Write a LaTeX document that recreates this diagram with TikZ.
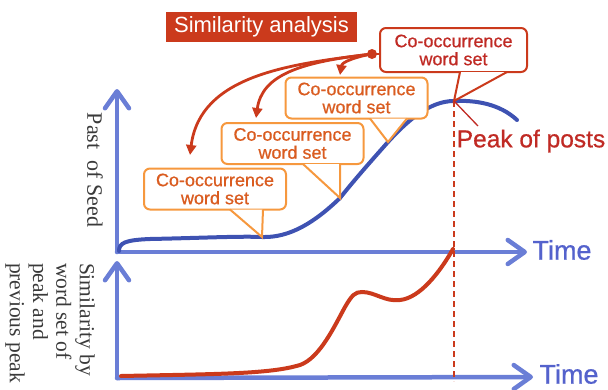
\documentclass[tikz,border=0pt]{standalone}
\usepackage{fontspec}
\setmainfont{Liberation Sans}
\newfontfamily\heavysans[FakeBold=0.7]{Liberation Sans}
\newfontfamily\serifface{Liberation Serif}
\usetikzlibrary{arrows.meta}

\definecolor{axisblue}{RGB}{106,126,214}
\definecolor{curveblue}{RGB}{62,82,178}
\definecolor{simred}{RGB}{203,58,28}
\definecolor{peakred}{RGB}{192,42,36}
\definecolor{boxorange}{RGB}{246,152,62}
\definecolor{textorange}{RGB}{218,92,32}
\definecolor{timeblue}{RGB}{84,98,204}
\definecolor{labelgray}{RGB}{58,58,58}

\begin{document}
\begin{tikzpicture}[x=1pt, y=-1pt,
    axis/.style={draw=axisblue, line width=4.5pt, line cap=round, -{Straight Barb[length=17pt,width=24pt,round]}},
    timelbl/.style={text=timeblue, inner sep=0pt, font=\heavysans\fontsize{27}{27}\selectfont},
    ylbl/.style={text=labelgray, inner sep=0pt, rotate=-90, font=\serifface\fontsize{22}{22}\selectfont},
    wordset/.style={draw=boxorange, line width=2pt, rounded corners=6pt, fill=white, text=textorange, minimum width=142pt, minimum height=41pt, inner sep=0pt, align=center, font=\heavysans\fontsize{18}{18}\selectfont},
    wordtop/.style={wordset, draw=simred, text=peakred, minimum width=147pt, minimum height=44pt},
    tail/.style={draw=boxorange, line width=2pt, fill=white},
    back/.style={draw=simred, line width=2.8pt, -{Triangle[length=10pt,width=10pt]}}]
    \useasboundingbox (0,0) rectangle (608,389);

    \coordinate (o1) at (117,252);
    \coordinate (x1) at (527,252);
    \coordinate (y1) at (117,89);
    \coordinate (o2) at (117,378);
    \coordinate (x2) at (533,377);
    \coordinate (y2) at (117,261);
    \coordinate (tip4) at (262,237);
    \coordinate (tip3) at (340,198);
    \coordinate (tip2) at (388,142);
    \coordinate (tip1) at (454,101);
    \coordinate (peakbase) at (454,381);
    \coordinate (peakptr) at (478,126);

    \draw[axis] (o1) -- (x1);
    \draw[axis] (o1) -- (y1);
    \draw[axis] (o2) -- (x2);
    \draw[axis] (o2) -- (y2);
    \node[timelbl] (time1) at (562,250) {Time};
    \node[timelbl] (time2) at (569,374) {Time};
    \node[ylbl] (seedlbl) at (95,170) {Past\ \ of Seed};
    \node[ylbl, align=left, font=\serifface\fontsize{21.5}{23.3}\selectfont] (simlbl) at (50,323) {Similarity by\\word set of\\peak and\\previous peak};

    \draw[curveblue, line width=4pt, line cap=round] (119,251) .. controls (119,243) and (125,240) .. (150,239)
        .. controls (200,238) and (240,236) .. (tip4)
        .. controls (290,238) and (315,222) .. (tip3)
        .. controls (356,178) and (372,160) .. (tip2)
        .. controls (408,120) and (430,101) .. (tip1)
        .. controls (476,100) and (500,104) .. (517,120);
    \draw[simred, line width=4pt, line cap=round] (121,376) .. controls (220,374) and (270,374) .. (300,365)
        .. controls (320,358) and (335,325) .. (345,307)
        .. controls (352,295) and (355,292) .. (362,292)
        .. controls (375,292) and (385,302) .. (400,300)
        .. controls (420,298) and (440,272) .. (453,249);
    \draw[simred, line width=1.8pt, dash pattern=on 6pt off 4pt] (tip1) -- (peakbase);

    \node[wordset] (cs4) at (215,189) {Co-occurrence\\word set};
    \filldraw[tail] ([xshift=15pt,yshift=1pt]cs4.south) -- (tip4) -- ([xshift=48pt,yshift=1pt]cs4.south);
    \node[wordset] (cs3) at (292.5,143.5) {Co-occurrence\\word set};
    \filldraw[tail] ([xshift=10.5pt,yshift=1pt]cs3.south) -- (tip3) -- ([xshift=47.5pt,yshift=1pt]cs3.south);
    \node[wordset] (cs2) at (356.5,98) {Co-occurrence\\word set};
    \filldraw[tail] ([xshift=13.5pt,yshift=1pt]cs2.south) -- (tip2) -- ([xshift=50.5pt,yshift=1pt]cs2.south);
    \node[wordtop] (cs1) at (453.5,50) {Co-occurrence\\word set};
    \filldraw[tail, draw=simred] ([xshift=6.5pt,yshift=1pt]cs1.south) -- (tip1) -- ([xshift=53.5pt,yshift=1pt]cs1.south);

    \node[text=peakred, inner sep=0pt, font=\heavysans\fontsize{24.5}{24.5}\selectfont] (peaklbl) at (531,141) {Peak of posts};
    \draw[peakred, line width=1.3pt] (tip1) -- (peakptr);

    \node[fill=simred, text=white, minimum width=191pt, minimum height=30pt, inner sep=0pt, font=\fontsize{22}{22}\selectfont] (title) at (261.5,27) {Similarity analysis};

    \fill[simred] (372,54) circle (5pt) coordinate (hub);
    \draw[simred, line width=2.5pt] (hub) -- (cs1.west |- hub);
    \draw[back] (hub) .. controls (290,64) and (200,75) .. (190,155);
    \draw[back] (hub) .. controls (300,62) and (262,75) .. (256,118);
    \draw[back] (hub) .. controls (355,57) and (342,62) .. (340,75);
\end{tikzpicture}
\end{document}
